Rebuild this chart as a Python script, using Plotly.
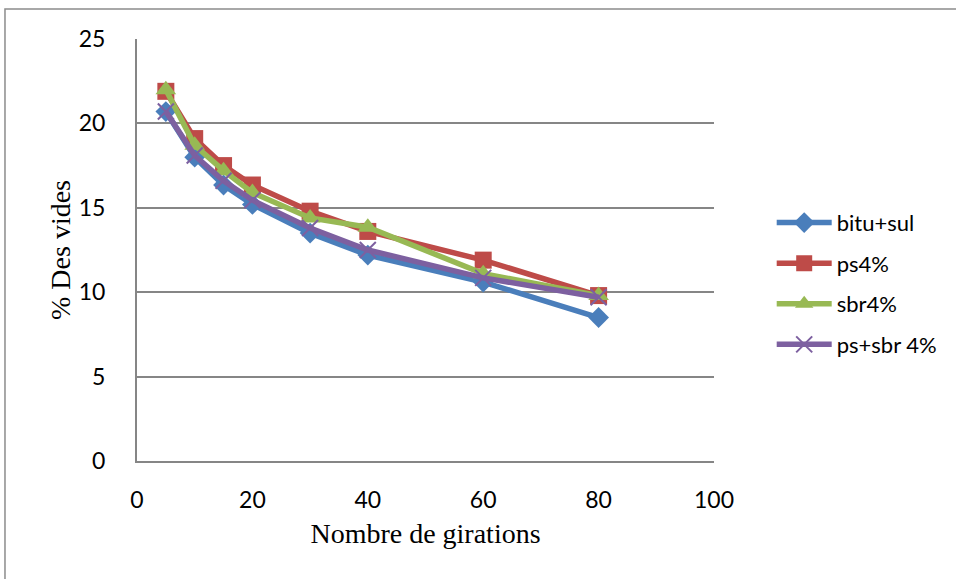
import plotly.graph_objects as go

# Nombre de girations (x) et % des vides (y) pour chaque mélange
girations = [5, 10, 15, 20, 30, 40, 60, 80]
bitu_sul = [20.7, 18.0, 16.35, 15.2, 13.5, 12.2, 10.6, 8.5]
ps4 = [21.9, 19.1, 17.5, 16.35, 14.8, 13.6, 11.9, 9.8]
sbr4 = [22.0, 18.7, 17.2, 15.9, 14.4, 13.85, 11.1, 9.8]
ps_sbr4 = [20.7, 18.1, 16.6, 15.45, 13.8, 12.5, 10.85, 9.7]

series_names = ["bitu+sul", "ps4%", "sbr4%", "ps+sbr 4%"]
series_values = [bitu_sul, ps4, sbr4, ps_sbr4]
colors = ["#4A7EBB", "#BE4B48", "#98B954", "#7D60A0"]
symbols = ["diamond", "square", "triangle-up", "x-thin"]
sizes = [16, 17, 18, 16]

x_ticks = [0, 20, 40, 60, 80, 100]
y_ticks = [0, 5, 10, 15, 20, 25]

fig = go.Figure()
for i, (name, vals) in enumerate(zip(series_names, series_values)):
    is_x = symbols[i] == "x-thin"
    fig.add_trace(go.Scatter(
        x=girations, y=vals, name=name, mode="lines+markers",
        legendgroup=f"g{i}",
        line=dict(color=colors[i], width=5.5),
        marker=dict(symbol=symbols[i], size=sizes[i], color=colors[i],
                    line=dict(color=colors[i], width=2 if is_x else 0)),
    ))

grid_color = "#868686"
fig.update_layout(
    width=956, height=579,
    margin=dict(l=137, r=242, t=39, b=118),
    paper_bgcolor="white", plot_bgcolor="white",
    font=dict(family="Lato, Open Sans, sans-serif", size=23, color="black"),
    xaxis=dict(
        range=[0, 100], tickvals=x_ticks, showgrid=False, zeroline=False,
        showline=True, linecolor=grid_color, linewidth=2,
        ticks="", ticklabelstandoff=17,
        title=dict(text="Nombre de girations",
                   font=dict(family="Liberation Serif, Times New Roman, serif", size=28),
                   standoff=12),
    ),
    yaxis=dict(
        range=[0, 25], tickvals=y_ticks, showgrid=True, gridcolor=grid_color,
        gridwidth=2, zeroline=False, showline=True, linecolor=grid_color,
        linewidth=2, ticks="", ticklabelstandoff=25,
        title=dict(text="% Des vides",
                   font=dict(family="Liberation Serif, Times New Roman, serif", size=28),
                   standoff=0),
    ),
    legend=dict(
        x=1.1, xanchor="left", y=0.42, yanchor="middle",
        font=dict(family="Lato, Open Sans, sans-serif", size=22),
        itemwidth=55, tracegroupgap=9, bgcolor="rgba(0,0,0,0)",
    ),
    showlegend=True,
)

# Cadre extérieur du graphique
fig.add_shape(type="rect", xref="paper", yref="paper",
              x0=-0.2288, x1=1.45, y0=-0.32, y1=1.0711,
              line=dict(color="#8C8C8C", width=1.5), fillcolor="rgba(0,0,0,0)",
              layer="below")

fig.write_html("out.html")
